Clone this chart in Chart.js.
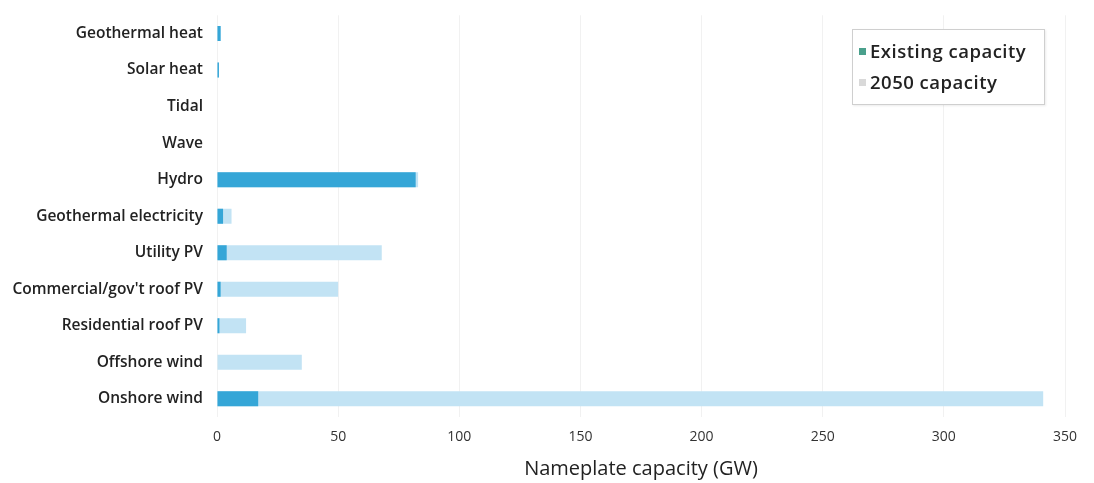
<!DOCTYPE html>
<html>
<head>
<meta charset="utf-8">
<script src="https://cdn.jsdelivr.net/npm/chart.js@4/dist/chart.umd.min.js"></script>
<style>
    html, body { margin: 0; padding: 0; background: #fff; }
    #wrap { position: relative; width: 1094px; height: 483px; }
    #legend {
        position: absolute; left: 852px; top: 29px; width: 193px; height: 76px;
        border: 1px solid #cfcfcf; box-shadow: 1px 1px 2px rgba(0,0,0,0.08);
        font-family: 'Open Sans', sans-serif; font-weight: 600; font-size: 18.5px; letter-spacing: 0.5px; color: #222;
        box-sizing: border-box; padding: 10px 0 0 6px; background: #fff;
    }
    #legend div { height: 31px; line-height: 22px; }
    #legend span.sw { display: inline-block; width: 7px; height: 7px; margin-right: 4px; vertical-align: 3px; }
</style>
</head>
<body>
<div id="wrap">
    <canvas id="capChart" width="1094" height="483"></canvas>
    <div id="legend"></div>
</div>
<script>
const categories = ['Geothermal heat', 'Solar heat', 'Tidal', 'Wave', 'Hydro', 'Geothermal electricity',
    'Utility PV', "Commercial/gov't roof PV", 'Residential roof PV', 'Offshore wind', 'Onshore wind'];
const existingCapacity = [1.5, 0.8, 0, 0, 82, 2.5, 4, 1.5, 1, 0, 17];
const capacity2050 = [1.5, 0.8, 0, 0, 83, 6, 68, 50, 12, 35, 341];
const xTicks = [0, 50, 100, 150, 200, 250, 300, 350];

const seriesNames = ['Existing capacity', '2050 capacity'];
const legendSwatches = ['#4aa08c', '#d9d9d9'];

document.addEventListener('DOMContentLoaded', () => {
    // HTML legend sitting inside the plot, top right
    const legend = document.getElementById('legend');
    seriesNames.forEach((name, i) => {
        const row = document.createElement('div');
        row.innerHTML = '<span class="sw" style="background:' + legendSwatches[i] + '"></span>' + name;
        legend.appendChild(row);
    });

    const ctx = document.getElementById('capChart').getContext('2d');
    new Chart(ctx, {
        type: 'bar',
        data: {
            labels: categories,
            datasets: [
                {
                    label: seriesNames[0],
                    data: existingCapacity,
                    backgroundColor: '#35a6d7',
                    grouped: false,
                    inflateAmount: 0,
                    barThickness: 15
                },
                {
                    label: seriesNames[1],
                    data: capacity2050,
                    backgroundColor: '#c2e3f4',
                    grouped: false,
                    inflateAmount: 0,
                    barThickness: 15
                }
            ]
        },
        options: {
            indexAxis: 'y',
            responsive: false,
            animation: false,
            layout: { padding: { top: 10, right: 29, left: 6, bottom: 2 } },
            scales: {
                x: {
                    min: 0,
                    max: 350,
                    afterBuildTicks: axis => { axis.ticks = xTicks.map(v => ({ value: v })); },
                    afterFit: axis => { axis.height = 64; },
                    grid: { color: '#f1f1f1', drawTicks: false },
                    border: { display: false },
                    ticks: {
                        color: '#333',
                        padding: 12,
                        font: { family: 'Open Sans', size: 14 }
                    },
                    title: {
                        display: true,
                        text: 'Nameplate capacity (GW)',
                        color: '#222',
                        font: { family: 'Open Sans', size: 20, weight: '500' },
                        padding: { top: 6, bottom: 0 }
                    }
                },
                y: {
                    afterFit: axis => { axis.width = 211; },
                    grid: { display: false },
                    border: { display: false },
                    ticks: {
                        color: '#222',
                        padding: 6,
                        font: { family: 'Open Sans', size: 15.5, weight: '600' }
                    }
                }
            },
            plugins: {
                legend: { display: false },
                tooltip: { enabled: false }
            }
        }
    });
});
</script>
</body>
</html>
